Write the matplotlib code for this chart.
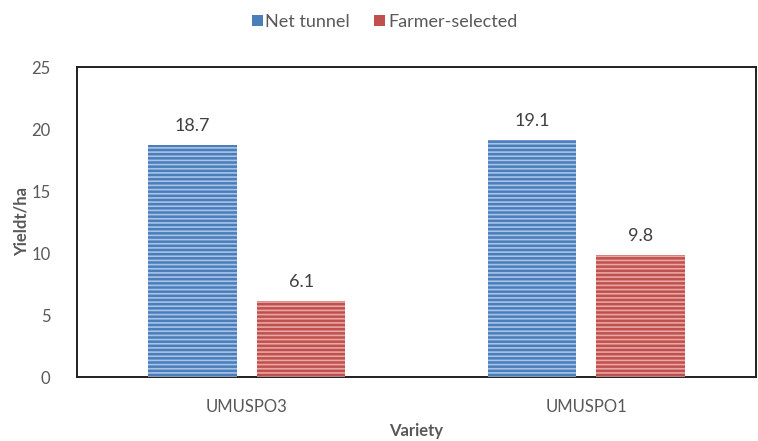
import matplotlib
matplotlib.use("Agg")
import matplotlib.pyplot as plt
import numpy as np

varieties = ["UMUSPO3", "UMUSPO1"]
net_tunnel = [18.7, 19.1]
farmer_selected = [6.1, 9.8]
y_ticks = [0, 5, 10, 15, 20, 25]

plt.rcParams["font.family"] = ["Lato", "DejaVu Sans"]
plt.rcParams["hatch.linewidth"] = 1.2

fig = plt.figure(figsize=(7.58, 4.41), dpi=100)
ax = fig.add_axes([77 / 758, 1 - 377 / 441, (756 - 77) / 758, (377 - 67) / 441])

x = np.arange(len(varieties))
width = 0.26
offset = 0.16

series = [
    ("Net tunnel", net_tunnel, -offset, "#4a7ebb", "#a9c3e6"),
    ("Farmer-selected", farmer_selected, offset, "#c0504d", "#e8a6a4"),
]
for label, values, shift, face, stripe in series:
    ax.bar(x + shift, values, width, color=face, edgecolor="none", label=label, zorder=2)
    ax.bar(x + shift, values, width, facecolor="none", edgecolor=stripe,
           hatch="----", linewidth=0, zorder=3)
    for xi, v in zip(x + shift, values):
        ax.text(xi, v + 0.9, f"{v:.1f}", ha="center", va="bottom",
                fontsize=13, color="#404040")

ax.set_xlim(-0.5, 1.5)
ax.set_ylim(0, 25)
ax.set_yticks(y_ticks)
ax.set_xticks(x)
ax.set_xticklabels(varieties)
ax.tick_params(length=0, labelsize=12, colors="#595959")
ax.tick_params(axis="x", pad=16)
ax.tick_params(axis="y", pad=19)
for spine in ax.spines.values():
    spine.set_color("#202020")
    spine.set_linewidth(1.4)

ax.set_ylabel("Yieldt/ha", fontsize=12, fontweight="bold", color="#595959")
ax.yaxis.set_label_coords(-47 / 679, 0.5)
ax.set_xlabel("Variety", fontsize=12, fontweight="bold", color="#595959")
ax.xaxis.set_label_coords(0.5, -46 / 310)

ax.legend(loc="center", bbox_to_anchor=(0.5 - 32 / 679, 355 / 310), ncol=2, frameon=False,
          fontsize=13, handlelength=0.6, handleheight=0.55, handletextpad=0.15,
          columnspacing=1.35, labelcolor="#595959")

fig.savefig("out.png", dpi=100)
